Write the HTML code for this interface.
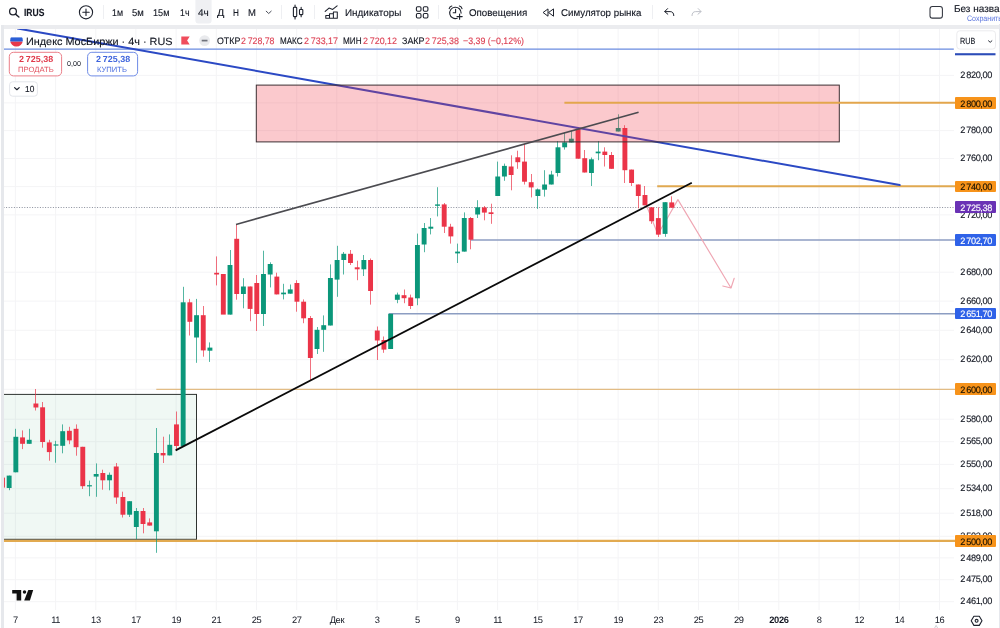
<!DOCTYPE html>
<html lang="ru"><head><meta charset="utf-8"><title>IRUS</title>
<style>
*{box-sizing:border-box;margin:0;padding:0}
html,body{width:1000px;height:628px;overflow:hidden;background:#fff}
body{font-family:"Liberation Sans",sans-serif;color:#131722;position:relative;-webkit-font-smoothing:antialiased;text-rendering:geometricPrecision}
#top{position:absolute;left:0;top:0;width:1000px;height:25.1px;background:#fff}
#strip{position:absolute;left:0;top:25.1px;width:1000px;height:3.8px;background:#ebecef}
#lb{position:absolute;left:0;top:25.1px;width:3.5px;height:604px;background:linear-gradient(90deg,#fff 0,#fff 1px,#e6e8ec 1.3px,#e6e8ec 100%)}
#rb{position:absolute;left:998.5px;top:24.4px;width:1.5px;height:604px;background:#e6e8ed}
#chart{position:absolute;left:0;top:0;width:1000px;height:628px}
.g{stroke:#f4f4f6;stroke-width:1}
.t{position:absolute;white-space:nowrap;line-height:12px;height:12px;transform-origin:0 50%;-webkit-text-stroke:0.13px currentColor}
.tb{font-size:9.6px;top:6px;color:#131722}
.sep{position:absolute;top:5px;width:1px;height:14px;background:#eeeff2}
.pl,.pt{position:absolute;left:955px;width:40.5px;height:14px;line-height:14px;font-size:9.2px;text-align:center;letter-spacing:-0.42px;padding-left:1.6px;white-space:nowrap}
.pt{height:11.6px;line-height:11.8px;border-radius:1px;padding-top:1.7px}
.tl{position:absolute;top:614px;width:40px;text-align:center;font-size:9.3px;letter-spacing:-0.4px;line-height:12px}
.tl.b{font-weight:bold}
.pl,.pt{-webkit-text-stroke:0.13px currentColor}
.ico{position:absolute}
#txt,#axis,#taxis{position:absolute;left:0;top:0;width:1000px;height:628px;will-change:transform;overflow:hidden}
</style></head><body>
<svg id="chart" width="1000" height="628" viewBox="0 0 1000 628">
<line x1="15.4" y1="29" x2="15.4" y2="610" class="g"/>
<line x1="55.6" y1="29" x2="55.6" y2="610" class="g"/>
<line x1="95.8" y1="29" x2="95.8" y2="610" class="g"/>
<line x1="135.9" y1="29" x2="135.9" y2="610" class="g"/>
<line x1="176.1" y1="29" x2="176.1" y2="610" class="g"/>
<line x1="216.3" y1="29" x2="216.3" y2="610" class="g"/>
<line x1="256.5" y1="29" x2="256.5" y2="610" class="g"/>
<line x1="296.7" y1="29" x2="296.7" y2="610" class="g"/>
<line x1="336.8" y1="29" x2="336.8" y2="610" class="g"/>
<line x1="377.0" y1="29" x2="377.0" y2="610" class="g"/>
<line x1="417.2" y1="29" x2="417.2" y2="610" class="g"/>
<line x1="457.4" y1="29" x2="457.4" y2="610" class="g"/>
<line x1="497.6" y1="29" x2="497.6" y2="610" class="g"/>
<line x1="537.7" y1="29" x2="537.7" y2="610" class="g"/>
<line x1="577.9" y1="29" x2="577.9" y2="610" class="g"/>
<line x1="618.1" y1="29" x2="618.1" y2="610" class="g"/>
<line x1="658.3" y1="29" x2="658.3" y2="610" class="g"/>
<line x1="698.5" y1="29" x2="698.5" y2="610" class="g"/>
<line x1="738.6" y1="29" x2="738.6" y2="610" class="g"/>
<line x1="778.8" y1="29" x2="778.8" y2="610" class="g"/>
<line x1="819.0" y1="29" x2="819.0" y2="610" class="g"/>
<line x1="859.2" y1="29" x2="859.2" y2="610" class="g"/>
<line x1="899.4" y1="29" x2="899.4" y2="610" class="g"/>
<line x1="939.5" y1="29" x2="939.5" y2="610" class="g"/>
<line x1="3.5" y1="75.4" x2="954" y2="75.4" class="g"/>
<line x1="3.5" y1="102.9" x2="954" y2="102.9" class="g"/>
<line x1="3.5" y1="130.6" x2="954" y2="130.6" class="g"/>
<line x1="3.5" y1="158.5" x2="954" y2="158.5" class="g"/>
<line x1="3.5" y1="186.6" x2="954" y2="186.6" class="g"/>
<line x1="3.5" y1="214.9" x2="954" y2="214.9" class="g"/>
<line x1="3.5" y1="272.2" x2="954" y2="272.2" class="g"/>
<line x1="3.5" y1="301.1" x2="954" y2="301.1" class="g"/>
<line x1="3.5" y1="330.3" x2="954" y2="330.3" class="g"/>
<line x1="3.5" y1="359.7" x2="954" y2="359.7" class="g"/>
<line x1="3.5" y1="389.3" x2="954" y2="389.3" class="g"/>
<line x1="3.5" y1="419.2" x2="954" y2="419.2" class="g"/>
<line x1="3.5" y1="441.7" x2="954" y2="441.7" class="g"/>
<line x1="3.5" y1="464.4" x2="954" y2="464.4" class="g"/>
<line x1="3.5" y1="488.7" x2="954" y2="488.7" class="g"/>
<line x1="3.5" y1="513.2" x2="954" y2="513.2" class="g"/>
<line x1="3.5" y1="536.3" x2="954" y2="536.3" class="g"/>
<line x1="3.5" y1="557.9" x2="954" y2="557.9" class="g"/>
<line x1="3.5" y1="579.7" x2="954" y2="579.7" class="g"/>
<line x1="3.5" y1="601.7" x2="954" y2="601.7" class="g"/>
<rect x="3.5" y="394.4" width="193" height="144.9" fill="#3aa76d" fill-opacity="0.08" stroke="#2f3330" stroke-width="1"/>
<line x1="3.5" y1="49.1" x2="953.8" y2="49.1" stroke="#6a8be0" stroke-width="1.2"/>
<line x1="657.2" y1="186.2" x2="955" y2="186.2" stroke="#e0a950" stroke-width="2.1"/>
<line x1="156.3" y1="389.3" x2="955" y2="389.3" stroke="#e2bc85" stroke-width="1.3"/>
<line x1="3.5" y1="540.9" x2="955" y2="540.9" stroke="#e2aa50" stroke-width="2.3"/>
<line x1="471" y1="239.9" x2="955" y2="239.9" stroke="#8c9dc2" stroke-width="1.5"/>
<line x1="388.8" y1="313.8" x2="955" y2="313.8" stroke="#8c9dc2" stroke-width="1.5"/>
<line x1="3.5" y1="207.5" x2="955" y2="207.5" stroke="#8a8f9c" stroke-width="1" stroke-dasharray="1 1.6"/>
<polyline points="645.5,203 657.8,234.2 668,217 677.9,199.6 731,288" fill="none" stroke="#efa6b3" stroke-width="1.15" stroke-linejoin="round"/>
<polyline points="722.8,286 731,288 734.2,278.3" fill="none" stroke="#efa6b3" stroke-width="1.15" stroke-linejoin="round" stroke-linecap="round"/>
<rect x="0.00" y="477.6" width="4.9" height="10.0" fill="#eb3448"/>
<rect x="9" y="475.6" width="1" height="14.6" fill="#0b977a" opacity="0.7"/>
<rect x="6.69" y="475.6" width="4.9" height="12.4" fill="#0b977a"/>
<rect x="15" y="428.8" width="1" height="43.5" fill="#0b977a" opacity="0.7"/>
<rect x="13.39" y="436.8" width="4.9" height="35.5" fill="#0b977a"/>
<rect x="22" y="430.4" width="1" height="18.7" fill="#eb3448" opacity="0.7"/>
<rect x="20.08" y="437.4" width="4.9" height="6.4" fill="#eb3448"/>
<rect x="29" y="428.8" width="1" height="15.0" fill="#0b977a" opacity="0.7"/>
<rect x="26.77" y="439.8" width="4.9" height="4.0" fill="#0b977a"/>
<rect x="35" y="389.0" width="1" height="21.5" fill="#eb3448" opacity="0.7"/>
<rect x="33.46" y="403.5" width="4.9" height="4.0" fill="#eb3448"/>
<rect x="42" y="402.0" width="1" height="45.7" fill="#eb3448" opacity="0.7"/>
<rect x="40.16" y="407.3" width="4.9" height="34.7" fill="#eb3448"/>
<rect x="49" y="439.8" width="1" height="20.9" fill="#eb3448" opacity="0.7"/>
<rect x="46.85" y="442.4" width="4.9" height="9.7" fill="#eb3448"/>
<rect x="55" y="440.8" width="1" height="21.9" fill="#0b977a" opacity="0.7"/>
<rect x="53.54" y="444.4" width="4.9" height="1.2" fill="#0b977a"/>
<rect x="62" y="424.4" width="1" height="28.9" fill="#0b977a" opacity="0.7"/>
<rect x="60.24" y="431.2" width="4.9" height="14.6" fill="#0b977a"/>
<rect x="69" y="426.8" width="1" height="17.4" fill="#eb3448" opacity="0.7"/>
<rect x="66.93" y="430.8" width="4.9" height="9.6" fill="#eb3448"/>
<rect x="76" y="424.4" width="1" height="31.3" fill="#eb3448" opacity="0.7"/>
<rect x="73.62" y="428.8" width="4.9" height="18.4" fill="#eb3448"/>
<rect x="82" y="446.8" width="1" height="42.2" fill="#eb3448" opacity="0.7"/>
<rect x="80.32" y="446.8" width="4.9" height="39.4" fill="#eb3448"/>
<rect x="89" y="480.6" width="1" height="15.6" fill="#0b977a" opacity="0.7"/>
<rect x="87.01" y="485.2" width="4.9" height="1.2" fill="#0b977a"/>
<rect x="96" y="463.4" width="1" height="33.4" fill="#0b977a" opacity="0.7"/>
<rect x="93.70" y="474.0" width="4.9" height="2.6" fill="#0b977a"/>
<rect x="102" y="469.7" width="1" height="20.0" fill="#eb3448" opacity="0.7"/>
<rect x="100.39" y="473.0" width="4.9" height="7.3" fill="#eb3448"/>
<rect x="109" y="472.5" width="1" height="17.8" fill="#0b977a" opacity="0.7"/>
<rect x="107.09" y="474.8" width="4.9" height="5.5" fill="#0b977a"/>
<rect x="116" y="463.0" width="1" height="40.8" fill="#eb3448" opacity="0.7"/>
<rect x="113.78" y="466.5" width="4.9" height="31.0" fill="#eb3448"/>
<rect x="122" y="491.7" width="1" height="25.8" fill="#eb3448" opacity="0.7"/>
<rect x="120.47" y="497.0" width="4.9" height="17.7" fill="#eb3448"/>
<rect x="129" y="501.2" width="1" height="15.8" fill="#0b977a" opacity="0.7"/>
<rect x="127.17" y="501.2" width="4.9" height="13.5" fill="#0b977a"/>
<rect x="136" y="508.0" width="1" height="31.0" fill="#0b977a" opacity="0.7"/>
<rect x="133.86" y="511.0" width="4.9" height="16.0" fill="#0b977a"/>
<rect x="143" y="508.0" width="1" height="25.3" fill="#eb3448" opacity="0.7"/>
<rect x="140.55" y="511.0" width="4.9" height="13.0" fill="#eb3448"/>
<rect x="149" y="518.4" width="1" height="7.2" fill="#eb3448" opacity="0.7"/>
<rect x="147.25" y="522.4" width="4.9" height="3.2" fill="#eb3448"/>
<rect x="156" y="428.0" width="1" height="124.8" fill="#0b977a" opacity="0.7"/>
<rect x="153.94" y="453.0" width="4.9" height="78.3" fill="#0b977a"/>
<rect x="163" y="436.7" width="1" height="26.3" fill="#eb3448" opacity="0.7"/>
<rect x="160.63" y="453.0" width="4.9" height="2.4" fill="#eb3448"/>
<rect x="169" y="434.4" width="1" height="21.0" fill="#0b977a" opacity="0.7"/>
<rect x="167.32" y="444.8" width="4.9" height="10.6" fill="#0b977a"/>
<rect x="176" y="411.5" width="1" height="39.3" fill="#eb3448" opacity="0.7"/>
<rect x="174.02" y="424.4" width="4.9" height="21.6" fill="#eb3448"/>
<rect x="183" y="286.8" width="1" height="159.2" fill="#0b977a" opacity="0.7"/>
<rect x="180.71" y="302.3" width="4.9" height="143.7" fill="#0b977a"/>
<rect x="189" y="298.9" width="1" height="36.6" fill="#eb3448" opacity="0.7"/>
<rect x="187.40" y="302.3" width="4.9" height="19.5" fill="#eb3448"/>
<rect x="196" y="298.9" width="1" height="63.9" fill="#0b977a" opacity="0.7"/>
<rect x="194.10" y="315.2" width="4.9" height="22.3" fill="#0b977a"/>
<rect x="203" y="306.0" width="1" height="50.7" fill="#eb3448" opacity="0.7"/>
<rect x="200.79" y="315.2" width="4.9" height="35.2" fill="#eb3448"/>
<rect x="209" y="342.4" width="1" height="19.5" fill="#0b977a" opacity="0.7"/>
<rect x="207.48" y="347.6" width="4.9" height="3.1" fill="#0b977a"/>
<rect x="216" y="256.4" width="1" height="29.0" fill="#eb3448" opacity="0.7"/>
<rect x="214.18" y="272.8" width="4.9" height="1.7" fill="#eb3448"/>
<rect x="220.87" y="274.0" width="4.9" height="40.6" fill="#eb3448"/>
<rect x="230" y="250.0" width="1" height="64.6" fill="#0b977a" opacity="0.7"/>
<rect x="227.56" y="265.0" width="4.9" height="49.6" fill="#0b977a"/>
<rect x="236" y="224.4" width="1" height="75.3" fill="#eb3448" opacity="0.7"/>
<rect x="234.25" y="238.8" width="4.9" height="55.2" fill="#eb3448"/>
<rect x="243" y="278.2" width="1" height="30.1" fill="#0b977a" opacity="0.7"/>
<rect x="240.95" y="286.5" width="4.9" height="7.5" fill="#0b977a"/>
<rect x="250" y="286.5" width="1" height="34.7" fill="#eb3448" opacity="0.7"/>
<rect x="247.64" y="286.5" width="4.9" height="22.4" fill="#eb3448"/>
<rect x="256" y="275.0" width="1" height="56.0" fill="#eb3448" opacity="0.7"/>
<rect x="254.33" y="283.0" width="4.9" height="31.0" fill="#eb3448"/>
<rect x="263" y="250.7" width="1" height="75.3" fill="#0b977a" opacity="0.7"/>
<rect x="261.03" y="274.0" width="4.9" height="40.0" fill="#0b977a"/>
<rect x="270" y="262.3" width="1" height="25.1" fill="#0b977a" opacity="0.7"/>
<rect x="267.72" y="264.0" width="4.9" height="10.5" fill="#0b977a"/>
<rect x="276" y="272.7" width="1" height="21.7" fill="#eb3448" opacity="0.7"/>
<rect x="274.41" y="276.6" width="4.9" height="17.8" fill="#eb3448"/>
<rect x="283" y="283.8" width="1" height="15.6" fill="#0b977a" opacity="0.7"/>
<rect x="281.11" y="292.6" width="4.9" height="1.7" fill="#0b977a"/>
<rect x="290" y="284.5" width="1" height="9.2" fill="#0b977a" opacity="0.7"/>
<rect x="287.80" y="289.4" width="4.9" height="4.3" fill="#0b977a"/>
<rect x="296" y="280.2" width="1" height="31.5" fill="#eb3448" opacity="0.7"/>
<rect x="294.49" y="283.0" width="4.9" height="18.7" fill="#eb3448"/>
<rect x="303" y="299.4" width="1" height="23.8" fill="#eb3448" opacity="0.7"/>
<rect x="301.19" y="301.7" width="4.9" height="16.6" fill="#eb3448"/>
<rect x="310" y="316.0" width="1" height="64.5" fill="#eb3448" opacity="0.7"/>
<rect x="307.88" y="318.0" width="4.9" height="40.0" fill="#eb3448"/>
<rect x="317" y="327.0" width="1" height="27.0" fill="#0b977a" opacity="0.7"/>
<rect x="314.57" y="329.8" width="4.9" height="19.2" fill="#0b977a"/>
<rect x="323" y="315.4" width="1" height="36.4" fill="#0b977a" opacity="0.7"/>
<rect x="321.26" y="325.2" width="4.9" height="4.6" fill="#0b977a"/>
<rect x="330" y="264.4" width="1" height="61.1" fill="#0b977a" opacity="0.7"/>
<rect x="327.96" y="278.0" width="4.9" height="47.5" fill="#0b977a"/>
<rect x="337" y="245.8" width="1" height="51.0" fill="#0b977a" opacity="0.7"/>
<rect x="334.65" y="260.0" width="4.9" height="19.6" fill="#0b977a"/>
<rect x="343" y="252.0" width="1" height="22.5" fill="#0b977a" opacity="0.7"/>
<rect x="341.34" y="253.8" width="4.9" height="6.2" fill="#0b977a"/>
<rect x="350" y="250.0" width="1" height="15.0" fill="#eb3448" opacity="0.7"/>
<rect x="348.04" y="253.8" width="4.9" height="9.2" fill="#eb3448"/>
<rect x="357" y="260.7" width="1" height="19.5" fill="#eb3448" opacity="0.7"/>
<rect x="354.73" y="267.3" width="4.9" height="2.0" fill="#eb3448"/>
<rect x="363" y="255.0" width="1" height="21.0" fill="#0b977a" opacity="0.7"/>
<rect x="361.42" y="260.0" width="4.9" height="9.3" fill="#0b977a"/>
<rect x="370" y="258.5" width="1" height="46.1" fill="#eb3448" opacity="0.7"/>
<rect x="368.11" y="260.0" width="4.9" height="31.0" fill="#eb3448"/>
<rect x="377" y="326.5" width="1" height="33.5" fill="#eb3448" opacity="0.7"/>
<rect x="374.81" y="330.5" width="4.9" height="10.0" fill="#eb3448"/>
<rect x="383" y="336.5" width="1" height="16.3" fill="#eb3448" opacity="0.7"/>
<rect x="381.50" y="340.0" width="4.9" height="9.6" fill="#eb3448"/>
<rect x="388.19" y="313.8" width="4.9" height="35.2" fill="#0b977a"/>
<rect x="397" y="292.6" width="1" height="10.6" fill="#0b977a" opacity="0.7"/>
<rect x="394.89" y="294.6" width="4.9" height="5.2" fill="#0b977a"/>
<rect x="404" y="289.5" width="1" height="13.7" fill="#eb3448" opacity="0.7"/>
<rect x="401.58" y="295.2" width="4.9" height="3.0" fill="#eb3448"/>
<rect x="410" y="294.6" width="1" height="14.4" fill="#eb3448" opacity="0.7"/>
<rect x="408.27" y="297.5" width="4.9" height="8.5" fill="#eb3448"/>
<rect x="417" y="233.6" width="1" height="71.6" fill="#0b977a" opacity="0.7"/>
<rect x="414.97" y="245.0" width="4.9" height="53.3" fill="#0b977a"/>
<rect x="424" y="223.0" width="1" height="29.2" fill="#0b977a" opacity="0.7"/>
<rect x="421.66" y="228.0" width="4.9" height="16.5" fill="#0b977a"/>
<rect x="430" y="218.0" width="1" height="16.4" fill="#0b977a" opacity="0.7"/>
<rect x="428.35" y="226.7" width="4.9" height="2.0" fill="#0b977a"/>
<rect x="437" y="187.2" width="1" height="29.2" fill="#0b977a" opacity="0.7"/>
<rect x="435.04" y="204.4" width="4.9" height="1.4" fill="#0b977a"/>
<rect x="444" y="203.0" width="1" height="30.0" fill="#eb3448" opacity="0.7"/>
<rect x="441.74" y="204.4" width="4.9" height="22.3" fill="#eb3448"/>
<rect x="450" y="223.8" width="1" height="19.8" fill="#eb3448" opacity="0.7"/>
<rect x="448.43" y="226.7" width="4.9" height="9.7" fill="#eb3448"/>
<rect x="457" y="243.6" width="1" height="19.4" fill="#0b977a" opacity="0.7"/>
<rect x="455.12" y="251.6" width="4.9" height="1.8" fill="#0b977a"/>
<rect x="464" y="212.4" width="1" height="39.2" fill="#0b977a" opacity="0.7"/>
<rect x="461.82" y="218.0" width="4.9" height="33.6" fill="#0b977a"/>
<rect x="470" y="217.0" width="1" height="32.3" fill="#eb3448" opacity="0.7"/>
<rect x="468.51" y="218.0" width="4.9" height="21.7" fill="#eb3448"/>
<rect x="477" y="200.2" width="1" height="17.8" fill="#0b977a" opacity="0.7"/>
<rect x="475.20" y="207.3" width="4.9" height="7.2" fill="#0b977a"/>
<rect x="484" y="206.0" width="1" height="14.3" fill="#eb3448" opacity="0.7"/>
<rect x="481.90" y="207.4" width="4.9" height="5.2" fill="#eb3448"/>
<rect x="491" y="203.7" width="1" height="20.1" fill="#eb3448" opacity="0.7"/>
<rect x="488.59" y="212.3" width="4.9" height="1.7" fill="#eb3448"/>
<rect x="497" y="161.6" width="1" height="34.4" fill="#0b977a" opacity="0.7"/>
<rect x="495.28" y="176.5" width="4.9" height="19.5" fill="#0b977a"/>
<rect x="504" y="163.6" width="1" height="17.2" fill="#0b977a" opacity="0.7"/>
<rect x="501.97" y="165.9" width="4.9" height="10.6" fill="#0b977a"/>
<rect x="511" y="155.3" width="1" height="35.0" fill="#eb3448" opacity="0.7"/>
<rect x="508.67" y="166.5" width="4.9" height="8.5" fill="#eb3448"/>
<rect x="517" y="150.7" width="1" height="18.1" fill="#eb3448" opacity="0.7"/>
<rect x="515.36" y="157.3" width="4.9" height="4.9" fill="#eb3448"/>
<rect x="524" y="143.8" width="1" height="40.7" fill="#eb3448" opacity="0.7"/>
<rect x="522.05" y="161.6" width="4.9" height="20.1" fill="#eb3448"/>
<rect x="531" y="174.0" width="1" height="23.4" fill="#eb3448" opacity="0.7"/>
<rect x="528.75" y="182.2" width="4.9" height="5.2" fill="#eb3448"/>
<rect x="537" y="188.5" width="1" height="20.4" fill="#0b977a" opacity="0.7"/>
<rect x="535.44" y="189.4" width="4.9" height="6.6" fill="#0b977a"/>
<rect x="544" y="170.2" width="1" height="26.4" fill="#0b977a" opacity="0.7"/>
<rect x="542.13" y="184.5" width="4.9" height="5.2" fill="#0b977a"/>
<rect x="551" y="170.8" width="1" height="13.7" fill="#0b977a" opacity="0.7"/>
<rect x="548.83" y="174.5" width="4.9" height="10.0" fill="#0b977a"/>
<rect x="557" y="141.0" width="1" height="35.5" fill="#0b977a" opacity="0.7"/>
<rect x="555.52" y="147.3" width="4.9" height="25.7" fill="#0b977a"/>
<rect x="564" y="132.4" width="1" height="17.2" fill="#0b977a" opacity="0.7"/>
<rect x="562.21" y="142.4" width="4.9" height="4.9" fill="#0b977a"/>
<rect x="571" y="131.0" width="1" height="11.4" fill="#0b977a" opacity="0.7"/>
<rect x="568.90" y="138.7" width="4.9" height="3.7" fill="#0b977a"/>
<rect x="578" y="127.2" width="1" height="31.5" fill="#eb3448" opacity="0.7"/>
<rect x="575.60" y="128.7" width="4.9" height="30.0" fill="#eb3448"/>
<rect x="584" y="150.0" width="1" height="22.5" fill="#eb3448" opacity="0.7"/>
<rect x="582.29" y="158.2" width="4.9" height="14.3" fill="#eb3448"/>
<rect x="591" y="157.5" width="1" height="28.5" fill="#0b977a" opacity="0.7"/>
<rect x="588.98" y="159.3" width="4.9" height="13.7" fill="#0b977a"/>
<rect x="598" y="141.0" width="1" height="19.2" fill="#0b977a" opacity="0.7"/>
<rect x="595.68" y="151.6" width="4.9" height="1.7" fill="#0b977a"/>
<rect x="604" y="147.3" width="1" height="19.2" fill="#eb3448" opacity="0.7"/>
<rect x="602.37" y="151.6" width="4.9" height="3.4" fill="#eb3448"/>
<rect x="611" y="152.0" width="1" height="16.8" fill="#eb3448" opacity="0.7"/>
<rect x="609.06" y="155.0" width="4.9" height="13.8" fill="#eb3448"/>
<rect x="618" y="114.3" width="1" height="17.2" fill="#0b977a" opacity="0.7"/>
<rect x="615.76" y="128.0" width="4.9" height="3.5" fill="#0b977a"/>
<rect x="624" y="125.2" width="1" height="57.8" fill="#eb3448" opacity="0.7"/>
<rect x="622.45" y="128.0" width="4.9" height="42.2" fill="#eb3448"/>
<rect x="631" y="169.6" width="1" height="16.4" fill="#eb3448" opacity="0.7"/>
<rect x="629.14" y="169.6" width="4.9" height="13.4" fill="#eb3448"/>
<rect x="638" y="184.5" width="1" height="23.8" fill="#eb3448" opacity="0.7"/>
<rect x="635.83" y="184.5" width="4.9" height="11.5" fill="#eb3448"/>
<rect x="644" y="186.0" width="1" height="19.3" fill="#eb3448" opacity="0.7"/>
<rect x="642.53" y="195.0" width="4.9" height="10.3" fill="#eb3448"/>
<rect x="651" y="207.3" width="1" height="16.5" fill="#eb3448" opacity="0.7"/>
<rect x="649.22" y="207.3" width="4.9" height="13.9" fill="#eb3448"/>
<rect x="658" y="207.4" width="1" height="29.6" fill="#eb3448" opacity="0.7"/>
<rect x="655.91" y="218.1" width="4.9" height="16.5" fill="#eb3448"/>
<rect x="665" y="202.2" width="1" height="34.6" fill="#0b977a" opacity="0.7"/>
<rect x="662.61" y="202.2" width="4.9" height="31.7" fill="#0b977a"/>
<rect x="671" y="196.3" width="1" height="11.4" fill="#eb3448" opacity="0.7"/>
<rect x="669.30" y="202.4" width="4.9" height="5.3" fill="#eb3448"/>
<line x1="17.6" y1="28.5" x2="899.7" y2="185" stroke="#2b49c4" stroke-width="2" stroke-linecap="round"/>
<rect x="256.3" y="85.1" width="583" height="56.8" fill="#f23645" fill-opacity="0.27" stroke="#3d3033" stroke-width="1"/>
<line x1="564.4" y1="102.8" x2="955" y2="102.8" stroke="#e3a64c" stroke-width="1.9"/>
<line x1="236" y1="224.4" x2="638.6" y2="112.3" stroke="#4b4b50" stroke-width="1.6"/>
<line x1="175.6" y1="450.4" x2="691.8" y2="182.8" stroke="#0a0a0a" stroke-width="1.8"/>
<path d="M12.2 589.9h9v10.6h-4.6v-7.1h-4.4z" fill="#111"/><circle cx="24.5" cy="592.1" r="1.75" fill="#111"/><path d="M28.3 589.9h4.9l-3.3 10.6h-5.7z" fill="#111"/>
</svg>
<div id="top"></div><div id="strip"></div><div id="lb"></div><div id="rb"></div>

<svg class="ico" style="left:0;top:0" width="1000" height="29" viewBox="0 0 1000 29" fill="none" stroke="#1e222d" stroke-width="1.15" stroke-linecap="round" stroke-linejoin="round">
<rect x="195.4" y="-3" width="16.2" height="26.4" rx="3" fill="#eff0f3" stroke="none"/>
<circle cx="13" cy="11.5" r="3.4" stroke-width="1.3"/><path d="M15.5 14.1L18.9 17" stroke-width="1.4"/>
<circle cx="86" cy="12.3" r="6.6" stroke-width="1.1"/><path d="M82.8 12.3h6.4M86 9.1v6.4" stroke-width="1.1"/>
<path d="M266.2 11.2l2.5 2.3l2.5-2.3" stroke="#4a4d58" stroke-width="1"/>
<rect x="293.4" y="7.3" width="3.3" height="9.3" rx="0.6" stroke-width="1.1"/><path d="M295.05 5v2.3M295.05 16.6v2.3" stroke-width="1.1"/>
<rect x="299.5" y="9.5" width="3.3" height="5.1" rx="0.6" stroke-width="1.1"/><path d="M301.15 7.4v2.1M301.15 14.6v2.1" stroke-width="1.1"/>
<path d="M325.2 11.4l3.8-3.3l3.7 1.3l4.4-3.5" stroke-width="1.1"/>
<path d="M325.8 18.2V15.4H329.5V13.7H333.4V12H337.3V18.2ZM329.5 15.4V18.2M333.4 13.7V18.2" stroke-width="1.05"/>
<rect x="416.4" y="6.8" width="4.6" height="4.5" rx="1.2" stroke-width="1.1"/><rect x="423.3" y="6.8" width="4.6" height="4.5" rx="1.2" stroke-width="1.1"/>
<rect x="416.4" y="13.5" width="4.6" height="4.5" rx="1.2" stroke-width="1.1"/><rect x="423.3" y="13.5" width="4.6" height="4.5" rx="1.2" stroke-width="1.1"/>
<path d="M457.2 18.3a5.7 5.7 0 1 1 3.9-5.2" stroke-width="1.1"/><path d="M455.6 9.3v3.4h-2.4" stroke-width="1.1"/>
<path d="M449.2 8.6a3.5 3.5 0 0 1 2.6-2.6M459.4 6a3.5 3.5 0 0 1 2.6 2.6" stroke-width="1.1"/>
<path d="M457 16.6h5.2M459.6 14v5.2" stroke-width="1.1"/>
<path d="M548 9.3v6.9l-4.6-3.45zM553.5 9.3v6.9l-4.6-3.45z" stroke-width="1"/>
<path d="M667.6 8.6l-2.9 3l3.1 2.6M664.9 11.6h5.2q3.6 0 3.7 4" stroke-width="1"/>
<path d="M698.2 8.6l2.9 3l-3.1 2.6M700.9 11.6h-5.2q-3.6 0-3.7 4" stroke="#bfc2c9" stroke-width="1"/>
<rect x="930" y="6.5" width="12.4" height="11.6" rx="2.4" stroke-width="1.05" stroke="#30343e"/>
</svg>
<div class="sep" style="left:103px"></div><div class="sep" style="left:281px"></div><div class="sep" style="left:314.3px"></div>
<div class="sep" style="left:438.4px"></div><div class="sep" style="left:652px"></div>


<svg class="ico" style="left:0;top:29px" width="1000" height="72" viewBox="0 29 1000 72" fill="none">
<defs><clipPath id="fc"><circle cx="16.5" cy="40.3" r="6.3"/></clipPath></defs>
<g clip-path="url(#fc)"><rect x="9" y="33" width="15" height="4.5" fill="#fff"/><rect x="9" y="37.4" width="15" height="4.3" fill="#2b5fd6"/><rect x="9" y="41.7" width="15" height="6" fill="#e8384a"/></g>
<path d="M181.3 36.5h8.4l-2.6 4l2.6 4h-8.4z" fill="#f04d5c"/>
<circle cx="204.6" cy="40.6" r="5.4" fill="#e9eaed"/><path d="M201.7 40.6h5.8" stroke="#6f727b" stroke-width="1.7"/>
<rect x="9.3" y="52.3" width="52.3" height="23.6" rx="4.2" fill="#fff" stroke="#ea7f89" stroke-width="1"/>
<rect x="87.6" y="52.3" width="50" height="23.6" rx="4.2" fill="#fff" stroke="#6e8be6" stroke-width="1"/>
<rect x="9.6" y="81.8" width="27.8" height="14.4" rx="3" fill="#fff" stroke="#e3e5ea" stroke-width="1"/>
<path d="M14.6 87.6l2.3 2.1l2.3-2.1" stroke="#1e222d" stroke-width="1.2" stroke-linecap="round" stroke-linejoin="round"/>
<rect x="956.8" y="30.8" width="38.7" height="18.3" rx="3" fill="#fff" stroke="#ececee" stroke-width="1"/>
<path d="M988.5 40.8l1.7 1.5l1.7-1.5" stroke="#2a2e39" stroke-width="1" stroke-linecap="round" stroke-linejoin="round"/>
<rect x="955" y="53.2" width="40.5" height="2.1" fill="#2c4cb8"/>
</svg>

<div id="txt"><div class="t" style="left:24.1px;top:8.00px;font-size:10.3px;color:#131722;transform:scaleX(0.829);font-weight:bold">IRUS</div>
<div class="t" style="left:112.2px;top:8.00px;font-size:9.8px;color:#131722;transform:scaleX(0.903)">1м</div>
<div class="t" style="left:132.0px;top:8.00px;font-size:9.8px;color:#131722;transform:scaleX(0.968)">5м</div>
<div class="t" style="left:153.4px;top:8.00px;font-size:9.8px;color:#131722;transform:scaleX(0.930)">15м</div>
<div class="t" style="left:179.8px;top:8.00px;font-size:9.8px;color:#131722;transform:scaleX(0.899)">1ч</div>
<div class="t" style="left:197.6px;top:8.00px;font-size:9.8px;color:#131722;transform:scaleX(1.022)">4ч</div>
<div class="t" style="left:217.1px;top:8.00px;font-size:9.8px;color:#131722;transform:scaleX(1.099)">Д</div>
<div class="t" style="left:233.1px;top:8.00px;font-size:9.8px;color:#131722;transform:scaleX(0.834)">Н</div>
<div class="t" style="left:248.1px;top:8.00px;font-size:9.8px;color:#131722;transform:scaleX(0.967)">М</div>
<div class="t" style="left:344.6px;top:8.00px;font-size:9.8px;color:#131722;transform:scaleX(1.011)">Индикаторы</div>
<div class="t" style="left:468.8px;top:8.00px;font-size:9.8px;color:#131722;transform:scaleX(0.995)">Оповещения</div>
<div class="t" style="left:561.4px;top:8.00px;font-size:9.8px;color:#131722;transform:scaleX(0.993)">Симулятор рынка</div>
<div class="t" style="left:953.9px;top:4.00px;font-size:10px;color:#131722;transform:scaleX(1.000)">Без названия</div>
<div class="t" style="left:966.8px;top:13.00px;font-size:8px;color:#5873de;transform:scaleX(0.880);-webkit-text-stroke:0">Сохранить</div>
<div class="t" style="left:26.0px;top:37.00px;font-size:10.4px;color:#131722;transform:scaleX(1.044)">Индекс МосБиржи · 4ч · RUS</div>
<div class="t" style="left:217.3px;top:35.00px;font-size:9.35px;color:#131722;transform:scaleX(0.945)">ОТКР</div>
<div class="t" style="left:241.2px;top:35.00px;font-size:9.35px;color:#dc3f52;transform:scaleX(0.940)">2&#8201;728,78</div>
<div class="t" style="left:280.0px;top:35.00px;font-size:9.35px;color:#131722;transform:scaleX(0.862)">МАКС</div>
<div class="t" style="left:303.5px;top:35.00px;font-size:9.35px;color:#dc3f52;transform:scaleX(0.954)">2&#8201;733,17</div>
<div class="t" style="left:342.5px;top:35.00px;font-size:9.35px;color:#131722;transform:scaleX(0.871)">МИН</div>
<div class="t" style="left:362.5px;top:35.00px;font-size:9.35px;color:#dc3f52;transform:scaleX(0.954)">2&#8201;720,12</div>
<div class="t" style="left:401.5px;top:35.00px;font-size:9.35px;color:#131722;transform:scaleX(0.955)">ЗАКР</div>
<div class="t" style="left:425.0px;top:35.00px;font-size:9.35px;color:#dc3f52;transform:scaleX(0.954)">2&#8201;725,38</div>
<div class="t" style="left:462.5px;top:35.00px;font-size:9.35px;color:#dc3f52;transform:scaleX(0.947)">−3,39 (−0,12%)</div>
<div class="t" style="left:18.6px;top:53.00px;font-size:8.8px;color:#e0394a;transform:scaleX(1.016);font-weight:bold;-webkit-text-stroke:0">2&#8201;725,38</div>
<div class="t" style="left:17.6px;top:64.00px;font-size:7.5px;color:#e2525f;transform:scaleX(1.023);-webkit-text-stroke:0">ПРОДАТЬ</div>
<div class="t" style="left:67.4px;top:58.00px;font-size:7.1px;color:#131722;transform:scaleX(1.006);-webkit-text-stroke:0">0,00</div>
<div class="t" style="left:95.6px;top:53.00px;font-size:8.8px;color:#3d63dd;transform:scaleX(1.016);font-weight:bold;-webkit-text-stroke:0">2&#8201;725,38</div>
<div class="t" style="left:96.9px;top:64.00px;font-size:7.5px;color:#4c6fe0;transform:scaleX(1.013);-webkit-text-stroke:0">КУПИТЬ</div>
<div class="t" style="left:24.7px;top:83.00px;font-size:8.8px;color:#131722;transform:scaleX(0.949)">10</div>
<div class="t" style="left:960.0px;top:35.00px;font-size:9.1px;color:#131722;transform:scaleX(0.797)">RUB</div></div>
<div id="axis"><div class="pl" style="top:68.1px">2&#8201;820,00</div><div class="pl" style="top:123.3px">2&#8201;780,00</div><div class="pl" style="top:151.2px">2&#8201;760,00</div><div class="pl" style="top:207.6px">2&#8201;720,00</div><div class="pl" style="top:264.9px">2&#8201;680,00</div><div class="pl" style="top:293.8px">2&#8201;660,00</div><div class="pl" style="top:323.0px">2&#8201;640,00</div><div class="pl" style="top:352.4px">2&#8201;620,00</div><div class="pl" style="top:411.9px">2&#8201;580,00</div><div class="pl" style="top:434.4px">2&#8201;565,00</div><div class="pl" style="top:457.1px">2&#8201;550,00</div><div class="pl" style="top:481.4px">2&#8201;534,00</div><div class="pl" style="top:505.9px">2&#8201;518,00</div><div class="pl" style="top:529.0px">2&#8201;503,00</div><div class="pl" style="top:550.6px">2&#8201;489,00</div><div class="pl" style="top:572.4px">2&#8201;475,00</div><div class="pl" style="top:594.4px">2&#8201;461,00</div><div class="pt" style="top:97.4px;background:#f7931a;color:#1a1200">2&#8201;800,00</div><div class="pt" style="top:180.7px;background:#f7931a;color:#1a1200">2&#8201;740,00</div><div class="pt" style="top:201.4px;background:#6a32b5;color:#fff">2&#8201;725,38</div><div class="pt" style="top:234.2px;background:#2f62e8;color:#fff">2&#8201;702,70</div><div class="pt" style="top:307.8px;background:#2f62e8;color:#fff">2&#8201;651,70</div><div class="pt" style="top:383.4px;background:#f7931a;color:#1a1200">2&#8201;600,00</div><div class="pt" style="top:535.4px;background:#f7931a;color:#1a1200">2&#8201;500,00</div></div>
<div id="taxis"><div class="tl" style="left:-4.5px">7</div><div class="tl" style="left:35.7px">11</div><div class="tl" style="left:75.9px">13</div><div class="tl" style="left:116.0px">17</div><div class="tl" style="left:156.2px">19</div><div class="tl" style="left:196.4px">21</div><div class="tl" style="left:236.6px">25</div><div class="tl" style="left:276.8px">27</div><div class="tl" style="left:316.9px">Дек</div><div class="tl" style="left:357.1px">3</div><div class="tl" style="left:397.3px">5</div><div class="tl" style="left:437.5px">9</div><div class="tl" style="left:477.7px">11</div><div class="tl" style="left:517.8px">15</div><div class="tl" style="left:558.0px">17</div><div class="tl" style="left:598.2px">19</div><div class="tl" style="left:638.4px">23</div><div class="tl" style="left:678.6px">25</div><div class="tl" style="left:718.7px">29</div><div class="tl b" style="left:758.9px">2026</div><div class="tl" style="left:799.1px">8</div><div class="tl" style="left:839.3px">12</div><div class="tl" style="left:879.5px">14</div><div class="tl" style="left:919.6px">16</div></div>
<svg class="ico" style="left:930px;top:612px" width="56" height="16" viewBox="930 612 56 16" fill="none" stroke="#1e222d" stroke-width="1.1" stroke-linejoin="round"><path d="M973.9 616.2h5.4l2.7 4.6l-2.7 4.6h-5.4l-2.7-4.6z"/><circle cx="976.6" cy="620.8" r="1.45"/><path d="M934.6 628l1.5-2.6l1.5 2.6" stroke="#c9cbd1" stroke-width="0.9"/></svg>
</body></html>
